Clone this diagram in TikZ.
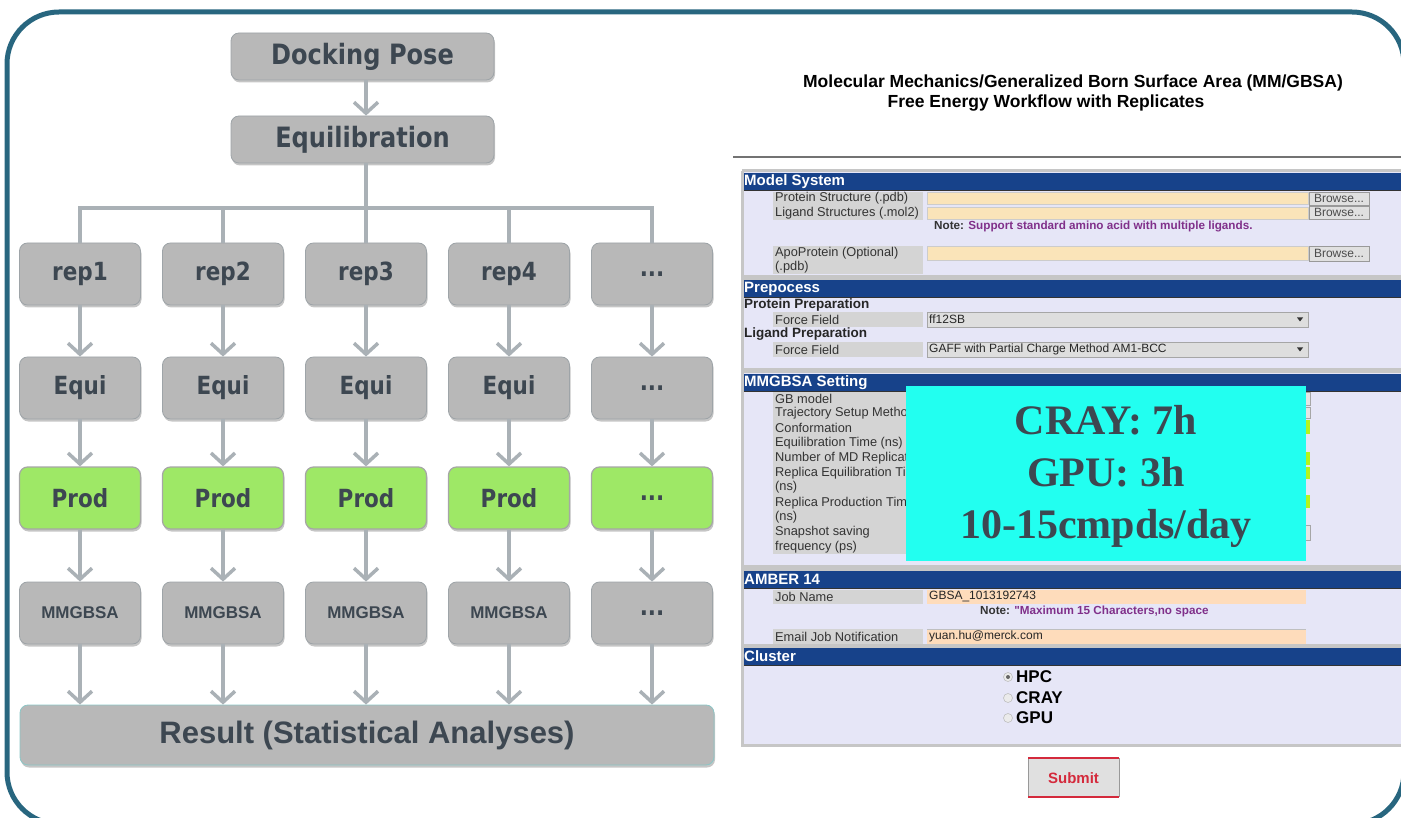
\documentclass[tikz,border=0pt]{standalone}
\usepackage{fontspec}
\setmainfont{Liberation Sans}
\newfontfamily\flowfont[FakeStretch=0.86]{DejaVu Sans}
\newfontfamily\timesfont{Liberation Serif}
\usepackage{xcolor}
\usetikzlibrary{shadows}
\usetikzlibrary{arrows.meta}

\definecolor{frameteal}{HTML}{28667F}
\definecolor{boxgrey}{HTML}{B8B8B8}
\definecolor{boxedge}{HTML}{9EA4A8}
\definecolor{textslate}{HTML}{3D4751}
\definecolor{prodgreen}{HTML}{9EE866}
\definecolor{linkgrey}{HTML}{AAB1B6}
\definecolor{panellav}{HTML}{E6E6F7}
\definecolor{headblue}{HTML}{17428A}
\definecolor{labelgrey}{HTML}{D4D4D4}
\definecolor{fieldyellow}{HTML}{FAE4B9}
\definecolor{fieldpeach}{HTML}{FEDCBB}
\definecolor{sepgrey}{HTML}{C6C6C6}
\definecolor{notepurple}{HTML}{80308A}
\definecolor{btngrey}{HTML}{E0E0E0}
\definecolor{cyanbox}{HTML}{22FFF0}
\definecolor{limegreen}{HTML}{B4F51E}
\definecolor{submitred}{HTML}{D42A3C}

\begin{document}
\begin{tikzpicture}[
      x=1pt, y=-1pt,
      type-box/.style={rectangle, rounded corners=8pt, fill=boxgrey, draw=boxedge, line width=0.8pt,
        text=textslate, inner sep=0pt,
        drop shadow={shadow xshift=1pt, shadow yshift=-2.5pt, fill=black!45, opacity=0.5}},
      type-head/.style={type-box, minimum width=263pt, minimum height=47pt,
        font=\flowfont\bfseries\fontsize{28}{30}\selectfont},
      type-rep/.style={type-box, minimum width=121pt, minimum height=62pt,
        font=\flowfont\bfseries\fontsize{25}{27}\selectfont},
      type-prod/.style={type-rep, fill=prodgreen, draw=black!35, line width=1.2pt},
      type-mm/.style={type-rep, font=\bfseries\fontsize{17}{19}\selectfont},
      type-result/.style={type-box, draw=teal!45, minimum width=694pt, minimum height=60pt,
        font=\bfseries\fontsize{31}{33}\selectfont},
      type-link/.style={draw=linkgrey, line width=3.5pt, line join=miter},
      type-arrow/.style={type-link, -{Straight Barb[length=11pt, width=24pt]}},
      form-head/.style={anchor=west, inner sep=0pt, text=white, font=\bfseries\fontsize{15}{16}\selectfont},
      form-label/.style={anchor=west, inner sep=0pt, text=black!80, font=\fontsize{12.8}{14}\selectfont},
      form-bold/.style={anchor=west, inner sep=0pt, text=black!85, font=\bfseries\fontsize{13.5}{15}\selectfont},
      form-value/.style={anchor=west, inner sep=0pt, text=black!85, font=\fontsize{12}{13}\selectfont},
      form-note/.style={anchor=west, inner sep=0pt, text=black!80, font=\bfseries\fontsize{11.7}{13}\selectfont},
      form-button/.style={draw=black!40, fill=btngrey, line width=0.6pt},
      form-radio/.style={anchor=west, inner sep=0pt, text=black, font=\bfseries\fontsize{17}{19}\selectfont}
    ]
  \useasboundingbox (0,0) rectangle (1401,818);
  \clip (0,0) rectangle (1401,818);
  \draw[frameteal, line width=5pt, rounded corners=52pt] (7,12) rectangle (1404,824);

  % workflow
  \node[type-head] (dock) at (362.5,56.5) {Docking Pose};
  \node[type-head] (equil) at (362.5,139.5) {Equilibration};
  \foreach \i in {1,...,4} {
    \node[type-rep] (rep\i) at ({80+143*(\i-1)},274) {rep\i};
    \node[type-rep] (equi\i) at ({80+143*(\i-1)},388) {Equi};
    \node[type-prod] (prod\i) at ({80+143*(\i-1)},498) {Prod};
    \node[type-mm] (mmgbsa\i) at ({80+143*(\i-1)},613) {MMGBSA};
  }
  \node[type-rep] (rep5) at (652,274) {...};
  \node[type-rep] (equi5) at (652,388) {...};
  \node[type-prod] (prod5) at (652,498) {...};
  \node[type-rep] (mmgbsa5) at (652,613) {...};
  \node[type-result] (result) at (367,735) {Result (Statistical Analyses)};

  \coordinate (bus) at (366,208);
  \draw[type-arrow] (dock.south -| rep3) -- (equil.north -| rep3);
  \draw[type-link] (equil.south -| rep3) -- (rep3.north);
  \draw[type-link] (rep1.north) -- (rep1.north |- bus) -- (rep5.north |- bus) -- (rep5.north);
  \draw[type-link] (rep2.north |- bus) -- (rep2.north);
  \draw[type-link] (rep4.north |- bus) -- (rep4.north);
  \foreach \i in {1,...,5} {
    \draw[type-arrow] (rep\i) -- (equi\i);
    \draw[type-arrow] (equi\i) -- (prod\i);
    \draw[type-arrow] (prod\i) -- (mmgbsa\i);
    \draw[type-arrow] (mmgbsa\i) -- (mmgbsa\i |- result.north);
  }

  % web form
  \node[inner sep=0pt, font=\bfseries\fontsize{17.5}{19}\selectfont] (title1) at (1073,83)
    {Molecular Mechanics/Generalized Born Surface Area (MM/GBSA)};
  \node[inner sep=0pt, font=\bfseries\fontsize{17.5}{19}\selectfont] (title2) at (1046,103)
    {Free Energy Workflow with Replicates};
  \draw[black!55, line width=2pt] (733,157) -- (1401,157);

  \fill[panellav] (742,171) rectangle (1404,745);
  \draw[sepgrey, line width=3pt] (742,171) -- (1404,171);
  \draw[sepgrey, line width=3pt] (742,171) -- (742,745) -- (1404,745);
  \foreach \ya/\yb in {275/280, 368/373, 565/571, 644/648}
    \fill[sepgrey] (744,\ya) rectangle (1404,\yb);
  \foreach \ya/\yb/\t [count=\k] in {173/190/{Model System}, 280/297/{Prepocess},
      374/391/{MMGBSA Setting}, 571/588/{AMBER 14}, 648/665/{Cluster}} {
    \fill[headblue] (744,\ya) rectangle (1404,\yb);
    \draw[black!80, line width=0.8pt] (744,\yb) -- (1404,\yb);
    \node[form-head] (head-\k) at (744,{(\ya+\yb)/2}) {\t};
  }

  % model system
  \fill[labelgrey] (773,192) rectangle (923,220);
  \fill[labelgrey] (773,246) rectangle (923,274);
  \node[form-label] (lbl-protein) at (775,198) {Protein Structure (.pdb)};
  \node[form-label] (lbl-ligand) at (775,213) {Ligand Structures (.mol2)};
  \node[form-label] (lbl-apo) at (775,253) {ApoProtein (Optional)};
  \node[form-label] (lbl-apo2) at (775,267) {(.pdb)};
  \foreach \ya/\yb in {192/204, 207/219, 246/260}
    \filldraw[fill=fieldyellow, draw=black!20, line width=0.5pt] (927,\ya) rectangle (1308,\yb);
  \foreach \ya/\yb [count=\k] in {192/205, 206/219, 246/261} {
    \draw[form-button] (1309,\ya) rectangle (1369,\yb);
    \node[form-value, anchor=center, text=black!70] (browse-\k) at (1339,{(\ya+\yb)/2}) {Browse...};
  }
  \node[form-note] (note-ligands) at (934,227)
    {Note: \textcolor{notepurple}{Support standard amino acid with multiple ligands.}};

  % preprocess
  \node[form-bold] (lbl-protprep) at (744,305) {Protein Preparation};
  \node[form-bold] (lbl-ligprep) at (744,334) {Ligand Preparation};
  \foreach \ya/\yb/\v [count=\k] in {312/327/{ff12SB}, 342/357/{GAFF with Partial Charge Method AM1-BCC}} {
    \fill[labelgrey] (773,\ya) rectangle (923,\yb);
    \node[form-label] (lbl-ff\k) at (775,{(\ya+\yb)/2}) {Force Field};
    \filldraw[fill=black!13, draw=black!35, line width=0.6pt] (927,\ya) rectangle (1308,\yb);
    \node[form-value] (val-ff\k) at (929,{(\ya+\yb)/2}) {\v};
    \fill[black!80] (1297,{(\ya+\yb)/2-2}) -- (1303,{(\ya+\yb)/2-2}) -- (1300,{(\ya+\yb)/2+2}) -- cycle;
  }

  % mmgbsa setting
  \fill[labelgrey] (773,392) rectangle (906,554);
  \foreach \ya/\yb in {392/405, 407/418, 525/540}
    \filldraw[fill=black!10, draw=black!35, line width=0.5pt] (927,\ya) rectangle (1310,\yb);
  \foreach \ya/\yb in {420/434, 452/465, 467/479, 495/508}
    \fill[limegreen] (927,\ya) rectangle (1310,\yb);
  \foreach \t/\y [count=\k] in {{GB model}/399, {Trajectory Setup Metho}/413, {Conformation}/428,
      {Equilibration Time (ns)}/443, {Number of MD Replicat}/458, {Replica Equilibration Ti}/473,
      {(ns)}/487, {Replica Production Tim}/503, {(ns)}/517, {Snapshot saving}/532, {frequency (ps)}/547}
    \node[form-label] (set-\k) at (775,\y) {\t};
  \fill[cyanbox] (906,386) rectangle (1306,561);
  \node[align=center, text=textslate, inner sep=0pt, font=\timesfont\bfseries\fontsize{42}{52}\selectfont]
    (speed) at (1106,476) {CRAY: 7h\\GPU: 3h\\10-15cmpds/day};

  % amber
  \fill[labelgrey] (773,590) rectangle (923,604);
  \fill[labelgrey] (773,629) rectangle (923,644);
  \node[form-label] (lbl-job) at (775,597) {Job Name};
  \node[form-label] (lbl-email) at (775,636.5) {Email Job Notification};
  \fill[fieldpeach] (927,590) rectangle (1306,604);
  \fill[fieldpeach] (927,629) rectangle (1306,644);
  \draw[black!25, line width=0.6pt] (927,629) -- (1306,629);
  \node[form-value] (val-job) at (929,597) {GBSA\_1013192743};
  \node[form-value] (val-email) at (929,636.5) {yuan.hu@merck.com};
  \node[form-note] (note-job) at (980,611)
    {Note: \textcolor{notepurple}{\textquotedbl Maximum 15 Characters,no space}};

  % cluster
  \foreach \t/\y [count=\k] in {HPC/677, CRAY/698, GPU/718} {
    \filldraw[fill=black!8, draw=black!25, line width=0.6pt] (1008,\y) circle (4.5);
    \node[form-radio] (radio-\k) at (1016,\y) {\t};
  }
  \fill[black!60] (1008,677) circle (2);

  \fill[btngrey] (1028,758) rectangle (1119,797);
  \draw[black!40, line width=0.8pt] (1028,758) -- (1028,797) (1119,758) -- (1119,797);
  \draw[submitred, line width=2pt] (1028,758) -- (1119,758) (1028,797) -- (1119,797);
  \node[inner sep=0pt, text=submitred, font=\bfseries\fontsize{15}{16}\selectfont] (submit) at (1073.5,778) {Submit};
\end{tikzpicture}
\end{document}
